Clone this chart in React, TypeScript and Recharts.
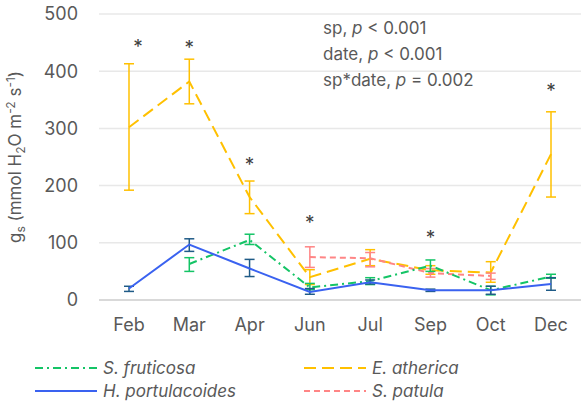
import React from 'react';
import { LineChart, Line, XAxis, YAxis, CartesianGrid, ErrorBar } from 'recharts';

const months = ['Feb', 'Mar', 'Apr', 'Jun', 'Jul', 'Sep', 'Oct', 'Dec'];

const fruticosa = [null, 63, 105, 22, 33, 60, 17, 41];
const fruticosaLow = [null, 50, 97, 18, 27, 50, 9, 38];
const fruticosaHigh = [null, 74, 115, 29, 39, 70, 24, 45];

const atherica = [302, 382, 180, 40, 72, 52, 48, 255];
const athericaLow = [192, 343, 151, 27, 60, 45, 31, 180];
const athericaHigh = [413, 421, 208, 53, 88, 60, 67, 329];

const portulacoides = [20, 97, 55, 14, 31, 17, 17, 28];
const portulacoidesLow = [15, 85, 41, 10, 28, 15, 10, 17];
const portulacoidesHigh = [24, 107, 71, 20, 35, 19, 24, 39];

const patula = [null, null, null, 75, 73, 47, 42, null];
const patulaLow = [null, null, null, 57, 58, 40, 36, null];
const patulaHigh = [null, null, null, 93, 83, 55, 47, null];

// significance markers (height of the asterisk)
const stars = [450, 447, 243, 141, null, 115, null, 373];
const yTicks = [0, 100, 200, 300, 400, 500];

const FONT = 'Inter, "Open Sans", sans-serif';
const TEXT = '#595959';

const GREEN = '#14C466';
const YELLOW = '#FFC000';
const BLUE = '#3A62F0';
const BLUE_ERR = '#1F5B87';
const PINK = '#FF8585';

const err = (v: number | null, lo: number | null, hi: number | null) =>
  v == null || lo == null || hi == null ? null : [v - lo, hi - v];

const data = months.map((m, i) => ({
  month: m,
  fru: fruticosa[i],
  fruErr: err(fruticosa[i], fruticosaLow[i], fruticosaHigh[i]),
  ath: atherica[i],
  athErr: err(atherica[i], athericaLow[i], athericaHigh[i]),
  por: portulacoides[i],
  porErr: err(portulacoides[i], portulacoidesLow[i], portulacoidesHigh[i]),
  pat: patula[i],
  patErr: err(patula[i], patulaLow[i], patulaHigh[i]),
  star: stars[i],
}));

const legendItems = [
  { name: 'S. fruticosa', color: GREEN, dash: '8 4 2 4' },
  { name: 'E. atherica', color: YELLOW, dash: '12 6' },
  { name: 'H. portulacoides', color: BLUE, dash: undefined },
  { name: 'S. patula', color: PINK, dash: '6 4' },
];

const YLabel = () => (
  <text transform="translate(21,157) rotate(-90)" textAnchor="middle" fill={TEXT} fontSize={17} fontFamily={FONT}>
    g<tspan dy={4} fontSize={12}>s</tspan>
    <tspan dy={-4}> (mmol H</tspan>
    <tspan dy={4} fontSize={12}>2</tspan>
    <tspan dy={-4}>O m</tspan>
    <tspan dy={-6} fontSize={12}>-2</tspan>
    <tspan dy={6}> s</tspan>
    <tspan dy={-6} fontSize={12}>-1</tspan>
    <tspan dy={6}>)</tspan>
  </text>
);

const Star = (props: any) => {
  const { cx, cy, index, payload } = props;
  if (payload.star == null || cy == null) return <g key={index} />;
  return (
    <text key={index} x={cx + (index === 0 ? 9 : 0)} y={cy + 10} textAnchor="middle" fill="#404040" fontSize={19} fontFamily={FONT}>
      *
    </text>
  );
};

export default function App() {
  return (
    <div style={{ position: 'absolute', left: 0, top: 0, width: 581, height: 402, background: '#fff' }}>
      <LineChart width={581} height={402} data={data} margin={{ top: 14, right: 0, left: 0, bottom: 72 }}>
        <CartesianGrid vertical={false} stroke="#e8e8e8" strokeWidth={1.5} />
        <XAxis
          dataKey="month"
          height={30}
          padding={{ left: 30, right: 30 }}
          tickLine={false}
          tickSize={0}
          tickMargin={18}
          axisLine={{ stroke: '#d9d9d9', strokeWidth: 2 }}
          tick={{ fill: TEXT, fontSize: 18, fontFamily: FONT }}
          interval={0}
        />
        <YAxis
          width={99}
          domain={[0, 500]}
          ticks={yTicks}
          tickLine={false}
          axisLine={false}
          tickSize={0}
          tickMargin={21}
          tick={{ fill: TEXT, fontSize: 18, fontFamily: FONT }}
          label={<YLabel />}
        />
        <Line dataKey="ath" stroke={YELLOW} strokeWidth={2} strokeDasharray="12 6" dot={false} isAnimationActive={false}>
          <ErrorBar dataKey="athErr" width={5} stroke={YELLOW} strokeWidth={1.5} direction="y" />
        </Line>
        <Line dataKey="pat" stroke={PINK} strokeWidth={2} strokeDasharray="6 4" dot={false} isAnimationActive={false}>
          <ErrorBar dataKey="patErr" width={5} stroke={PINK} strokeWidth={1.5} direction="y" />
        </Line>
        <Line dataKey="fru" stroke={GREEN} strokeWidth={2} strokeDasharray="8 4 2 4" dot={false} isAnimationActive={false}>
          <ErrorBar dataKey="fruErr" width={5} stroke={GREEN} strokeWidth={1.5} direction="y" />
        </Line>
        <Line dataKey="por" stroke={BLUE} strokeWidth={2} dot={false} isAnimationActive={false}>
          <ErrorBar dataKey="porErr" width={5} stroke={BLUE_ERR} strokeWidth={1.5} direction="y" />
        </Line>
        <Line dataKey="star" stroke="none" dot={Star} activeDot={false} legendType="none" isAnimationActive={false} />
      </LineChart>
      <div style={{ position: 'absolute', left: 323, top: 15, fontFamily: FONT, fontSize: 17, color: TEXT, lineHeight: '26px' }}>
        <div>sp, <i>p</i> &lt; 0.001</div>
        <div>date, <i>p</i> &lt; 0.001</div>
        <div>sp*date, <i>p</i> = 0.002</div>
      </div>
      <div style={{ position: 'absolute', left: 0, top: 358, display: 'grid', gridTemplateColumns: '269px 300px', rowGap: 3, fontFamily: FONT }}>
        {legendItems.map((it) => (
          <div key={it.name} style={{ display: 'flex', alignItems: 'center', height: 20, paddingLeft: 35 }}>
            <svg width={62} height={6}>
              <line x1={0} y1={3} x2={62} y2={3} stroke={it.color} strokeWidth={2} strokeDasharray={it.dash} />
            </svg>
            <span style={{ marginLeft: 6, fontSize: 17, fontStyle: 'italic', color: TEXT }}>{it.name}</span>
          </div>
        ))}
      </div>
    </div>
  );
}
